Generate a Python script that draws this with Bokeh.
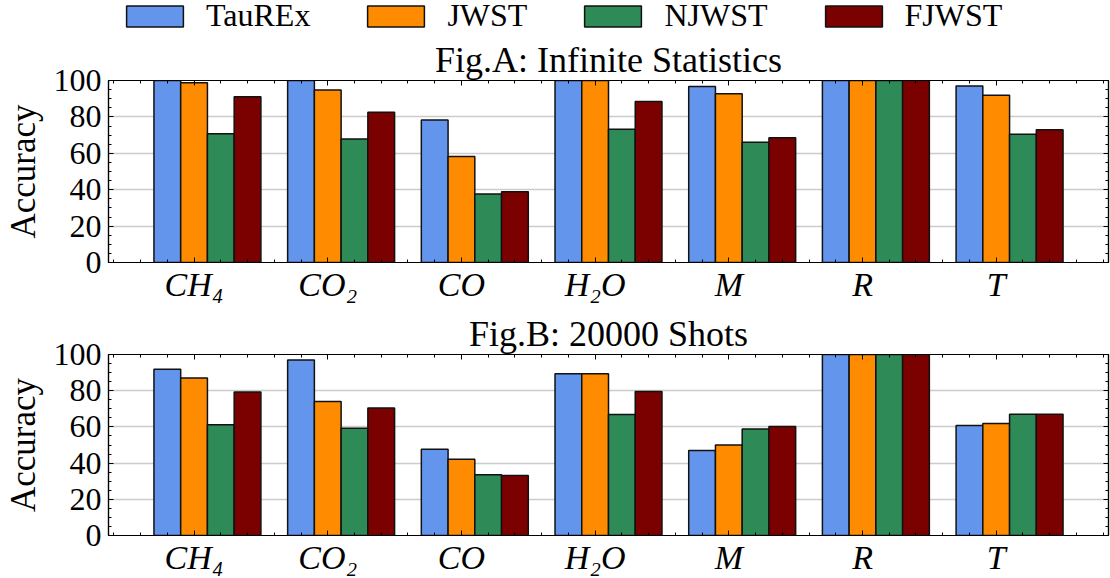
from bokeh.plotting import figure
from bokeh.models import (Range1d, FixedTicker, LinearAxis, Legend, LegendItem,
                          ColumnDataSource)
from bokeh.layouts import column
from bokeh.embed import file_html
from bokeh.resources import INLINE

# ---------------- data ----------------
categories = ["CH₄", "CO₂", "CO", "H₂O", "M", "R", "T"]
series = ["TauREx", "JWST", "NJWST", "FJWST"]
colors = ["#6495ED", "#FF8C00", "#2E8B57", "#7B0000"]

inf_taurex = [100, 100, 78.3, 100, 96.7, 100, 97.0]
inf_jwst = [98.8, 94.8, 58.3, 100, 92.7, 100, 91.9]
inf_njwst = [70.7, 67.8, 37.6, 73.2, 66.1, 100, 70.5]
inf_fjwst = [91.1, 82.5, 38.9, 88.4, 68.6, 100, 72.9]

shots_taurex = [91.8, 96.9, 47.7, 89.4, 46.9, 100, 60.8]
shots_jwst = [87.0, 74.1, 42.1, 89.4, 50.0, 100, 61.9]
shots_njwst = [61.2, 59.3, 33.5, 66.8, 58.8, 100, 67.0]
shots_fjwst = [79.3, 70.5, 33.2, 79.6, 60.2, 100, 67.0]

yticks = [0, 20, 40, 60, 80, 100]
titles = ["Fig.A: Infinite Statistics", "Fig.B: 20000 Shots"]
ylabel = "Accuracy"

FONT = "'Liberation Serif', serif"
BAR_W = 0.2


def hidden_axis(ticker, ticks):
    ax = LinearAxis(ticker=ticker, major_label_text_font_size="0px",
                    major_label_overrides={t: "" for t in ticks},
                    major_label_standoff=0, major_tick_in=5, major_tick_out=0,
                    minor_tick_in=3, minor_tick_out=0,
                    axis_line_color="black", axis_line_width=1.2,
                    major_tick_line_color="black", minor_tick_line_color="black")
    return ax


def make_panel(title, values, height, b_top, b_bottom):
    n = len(categories)
    p = figure(width=1110, height=height, output_backend="svg", toolbar_location=None,
               x_range=Range1d(-0.44, 7.04), y_range=Range1d(0, 100),
               min_border_left=107, min_border_right=2,
               min_border_top=b_top, min_border_bottom=b_bottom)
    p.background_fill_color = "white"
    p.border_fill_color = "white"
    p.outline_line_color = "black"
    p.outline_line_width = 1.2

    sources = []
    for k, (vals, col) in enumerate(zip(values, colors)):
        src = ColumnDataSource(dict(x=[i + k * BAR_W for i in range(n)], top=vals))
        p.vbar(x="x", top="top", bottom=0, width=BAR_W, source=src,
               fill_color=col, line_color="#111111", line_width=1.5)
        sources.append(src)

    xt = [i + BAR_W for i in range(n)]
    x_minor = [round(k * 0.2, 2) for k in range(-2, 36)]
    xticker = FixedTicker(ticks=xt, minor_ticks=x_minor)
    yticker = FixedTicker(ticks=yticks, minor_ticks=list(range(0, 101, 5)))

    xa = p.xaxis[0]
    xa.ticker = xticker
    xa.major_label_overrides = {t: c for t, c in zip(xt, categories)}
    xa.major_label_text_font = FONT
    xa.major_label_text_font_style = "italic"
    xa.major_label_text_font_size = "34px"
    xa.major_label_text_color = "black"
    xa.major_label_standoff = 3
    ya = p.yaxis[0]
    ya.ticker = yticker
    ya.major_label_text_font = FONT
    ya.major_label_text_font_size = "32px"
    ya.major_label_text_color = "black"
    ya.major_label_standoff = 7
    ya.axis_label = ylabel
    ya.axis_label_text_font = FONT
    ya.axis_label_text_font_size = "35px"
    ya.axis_label_text_font_style = "normal"
    ya.axis_label_text_color = "black"
    ya.axis_label_standoff = 8
    for ax in (xa, ya):
        ax.major_tick_in = 5
        ax.major_tick_out = 0
        ax.minor_tick_in = 3
        ax.minor_tick_out = 0
        ax.axis_line_color = "black"
        ax.axis_line_width = 1.2
        ax.major_tick_line_color = "black"
        ax.minor_tick_line_color = "black"

    p.add_layout(hidden_axis(yticker, yticks), "right")
    p.add_layout(hidden_axis(xticker, xt), "above")

    p.xgrid.visible = False
    p.ygrid.ticker = yticker
    p.ygrid.grid_line_color = "#cccccc"
    p.ygrid.grid_line_width = 1.5

    p.title.text = title
    p.title.text_font = FONT
    p.title.text_font_size = "36px"
    p.title.text_font_style = "normal"
    p.title.text_color = "black"
    p.title.align = "center"
    p.title.standoff = 2
    return p, sources


pa, src_a = make_panel(titles[0], [inf_taurex, inf_jwst, inf_njwst, inf_fjwst], 274, 43, 48)
pb, _ = make_panel(titles[1], [shots_taurex, shots_jwst, shots_njwst, shots_fjwst], 268, 44, 41)

# legend strip on top (legend renderers share Fig.A's data, kept hidden)
pl = figure(width=1110, height=36, output_backend="svg", toolbar_location=None,
            x_range=Range1d(0, 1), y_range=Range1d(0, 1),
            x_axis_type=None, y_axis_type=None,
            min_border_left=107, min_border_right=2, min_border_top=0, min_border_bottom=0)
pl.outline_line_color = None
pl.grid.visible = False
pl.background_fill_color = "white"
pl.border_fill_color = "white"
leg_renderers = []
for src, col in zip(src_a, colors):
    r = pl.vbar(x="x", top="top", bottom=0, width=BAR_W, source=src,
                fill_color=col, line_color="#111111", line_width=1.5)
    r.visible = False
    leg_renderers.append(r)
items = [LegendItem(label=s, renderers=[r]) for s, r in zip(series, leg_renderers)]
leg = Legend(items=items, orientation="horizontal", location=(11, 2),
             glyph_width=71, glyph_height=26, label_standoff=16, spacing=50,
             padding=0, margin=0, border_line_alpha=0, background_fill_alpha=0,
             inactive_fill_alpha=0,
             label_text_font=FONT, label_text_font_size="32px",
             label_text_color="black")
pl.add_layout(leg)

layout = column(pl, pa, pb, spacing=0)
open("out.html", "w").write(file_html(layout, INLINE))
